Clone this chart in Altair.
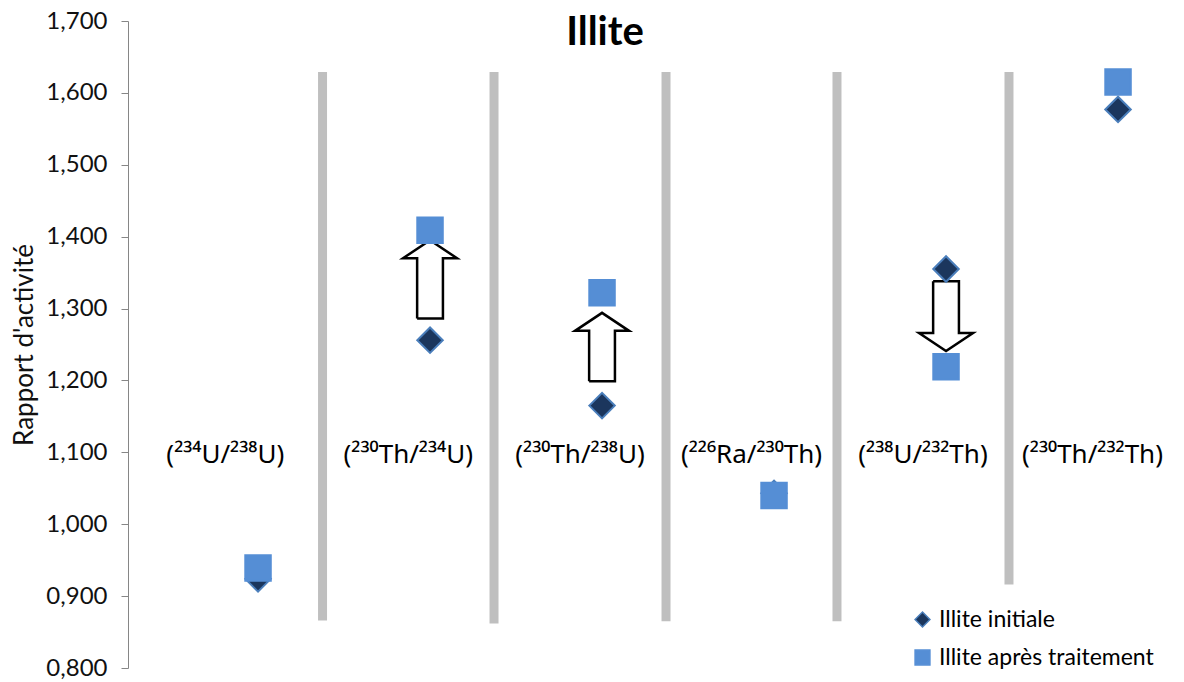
import altair as alt
import pandas as pd

# ---- data ----
chart_title = "Illite"
categories = ["(²³⁴U/²³⁸U)", "(²³⁰Th/²³⁴U)", "(²³⁰Th/²³⁸U)",
              "(²²⁶Ra/²³⁰Th)", "(²³⁸U/²³²Th)", "(²³⁰Th/²³²Th)"]
cat_pos = [1, 2, 3, 4, 5, 6]
series_names = ["Illite initiale", "Illite après traitement"]
initiale = [0.924, 1.256, 1.165, 1.043, 1.355, 1.577]
apres = [0.939, 1.409, 1.322, 1.040, 1.219, 1.615]

sep_x = [1.375, 2.372, 3.372, 4.366, 5.366]
sep_top = [1.629, 1.629, 1.629, 1.629, 1.629]
sep_bottom = [0.866, 0.862, 0.865, 0.865, 0.916]

arrow_cat = [2, 3, 5]
arrow_from = [1.286, 1.199, 1.338]
arrow_to = [1.395, 1.294, 1.241]

y_ticks = [0.8, 0.9, 1.0, 1.1, 1.2, 1.3, 1.4, 1.5, 1.6, 1.7]
label_y = 1.085

X_DOMAIN = [0.244, 6.337]
Y_DOMAIN = [0.8, 1.7]

# ---- tables ----
points = pd.DataFrame(
    [{"cat": c, "serie": series_names[0], "v": v} for c, v in zip(cat_pos, initiale)]
    + [{"cat": c, "serie": series_names[1], "v": v} for c, v in zip(cat_pos, apres)]
)

seps = pd.DataFrame({"x": sep_x, "top": sep_top, "bottom": sep_bottom})

bounds = [X_DOMAIN[0]] + sep_x + [X_DOMAIN[1]]
labels = pd.DataFrame({
    "x": [(bounds[i] + bounds[i + 1]) / 2 for i in range(len(categories))],
    "y": [label_y] * len(categories),
    "t": categories,
})

# arrow outlines built from their start / end values
SW, HW, HL = 0.075, 0.157, 0.025
rows = []
for i, (c, y0, y1) in enumerate(zip(arrow_cat, arrow_from, arrow_to)):
    d = 1 if y1 > y0 else -1
    yb = y1 - d * HL
    pts = [(c - SW, y0), (c - SW, yb), (c - HW, yb), (c, y1),
           (c + HW, yb), (c + SW, yb), (c + SW, y0), (c - SW, y0)]
    for k, (px, py) in enumerate(pts):
        rows.append({"a": i, "k": k, "x": px, "y": py})
arrows = pd.DataFrame(rows)

xs = alt.Scale(domain=X_DOMAIN, nice=False, zero=False)
ys = alt.Scale(domain=Y_DOMAIN, nice=False, zero=False)

FONT = "Lato, 'Noto Sans', sans-serif"
LABEL_FONT = "'Noto Sans', Lato, sans-serif"

sep_layer = alt.Chart(seps).mark_rule(color="#BFBFBF", strokeWidth=9).encode(
    x=alt.X("x:Q", scale=xs, axis=None),
    y=alt.Y("top:Q", scale=ys),
    y2="bottom:Q",
)

label_layer = alt.Chart(labels).mark_text(
    font=LABEL_FONT, fontSize=26, color="black", baseline="alphabetic", align="center"
).encode(
    x=alt.X("x:Q", scale=xs, axis=None),
    y=alt.Y("y:Q", scale=ys),
    text="t:N",
)

title_layer = alt.Chart(pd.DataFrame({"t": [chart_title]})).mark_text(
    font=FONT, fontSize=40, fontWeight="bold", color="black",
    baseline="alphabetic", align="center"
).encode(
    x=alt.value(477),
    y=alt.value(24),
    text="t:N",
)

arrow_layer = alt.Chart(arrows).mark_line(
    color="black", strokeWidth=2.5, strokeJoin="miter"
).encode(
    x=alt.X("x:Q", scale=xs, axis=None),
    y=alt.Y("y:Q", scale=ys),
    detail="a:N",
    order="k:Q",
)

point_layer = alt.Chart(points).mark_point(
    opacity=1, strokeWidth=2, size=650
).encode(
    x=alt.X("cat:Q", scale=xs, axis=None),
    y=alt.Y(
        "v:Q", scale=ys,
        axis=alt.Axis(
            values=y_ticks, grid=False, title="Rapport d'activité",
            labelExpr="replace(format(datum.value, '.3f'), '.', ',')",
            domainColor="#868686", tickColor="#868686", tickSize=7,
            labelFont=FONT, labelFontSize=24, labelColor="#111111",
            labelPadding=14, titleFont=FONT, titleFontSize=26,
            titleFontWeight="normal", titleColor="#111111", titlePadding=8,
        ),
    ),
    shape=alt.Shape("serie:N", scale=alt.Scale(domain=series_names, range=["diamond", "square"]),
                    legend=alt.Legend(title=None)),
    fill=alt.Fill("serie:N", scale=alt.Scale(domain=series_names, range=["#1B365D", "#558ED5"]),
                  legend=alt.Legend(title=None)),
    stroke=alt.Stroke("serie:N", scale=alt.Scale(domain=series_names, range=["#4A7EBB", "#558ED5"]),
                      legend=alt.Legend(title=None)),
    order=alt.Order("serie_order:Q"),
).transform_calculate(serie_order=f"datum.serie == '{series_names[0]}' ? 0 : 1")

chart = alt.layer(sep_layer, label_layer, arrow_layer, point_layer, title_layer).properties(
    width=1048,
    height=647,
    padding={"left": 120, "top": 13, "right": 0, "bottom": 12},
    autosize=alt.AutoSizeParams(type="none"),
).configure_view(stroke=None).configure_legend(
    orient="none", legendX=783, legendY=587, direction="vertical",
    symbolSize=220, symbolStrokeWidth=1.5, labelFont=FONT, labelFontSize=23,
    labelColor="black", labelOffset=5, labelLimit=500, rowPadding=14, padding=0,
)

chart.save("out.html", embed_options={"renderer": "svg", "actions": False})
